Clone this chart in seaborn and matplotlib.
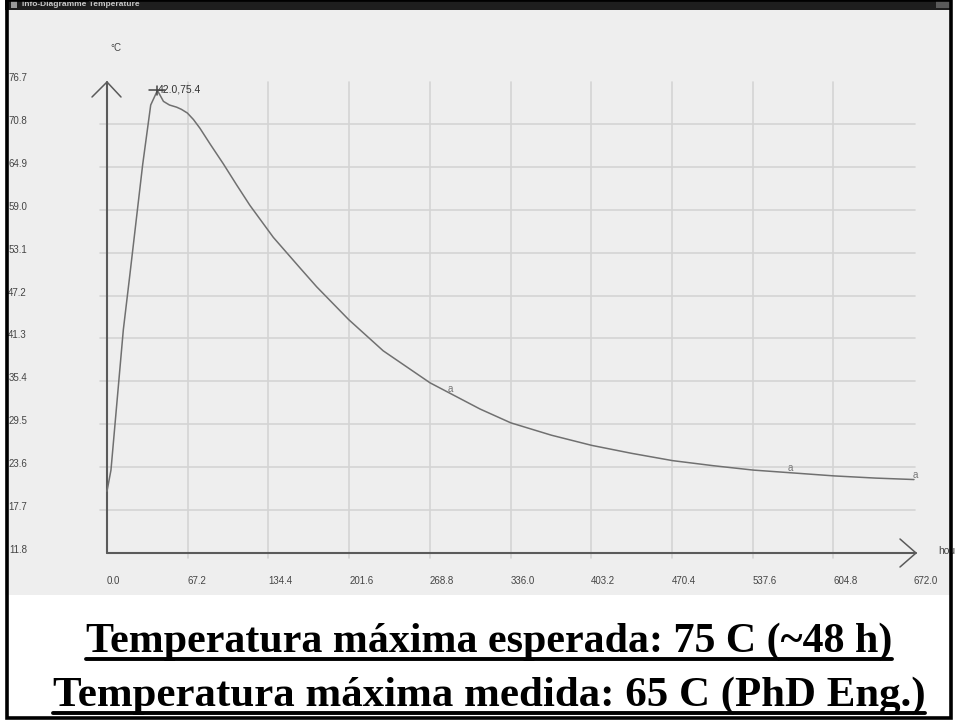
import matplotlib
matplotlib.use("Agg")
import matplotlib.pyplot as plt
from matplotlib.lines import Line2D
from matplotlib.patches import Rectangle
import seaborn as sns

# temperature curve (hours, deg C)
hours = [0, 3.3, 13.6, 19, 29.7, 36.4, 42, 47, 52, 58, 62, 66.9, 72, 77.4, 86, 96.9, 108,
         119, 138.5, 160.7, 174.6, 201.2, 230, 269, 310.6, 336.2, 370, 403.6, 437,
         471, 505, 538.2, 572, 605.6, 640, 672]
temp = [20.3, 23.2, 42.5, 50.0, 65.2, 73.4, 75.4, 73.9, 73.4, 73.1, 72.8, 72.3, 71.4, 70.2,
        68.0, 65.3, 62.4, 59.6, 55.2, 51.0, 48.4, 43.9, 39.6, 35.2, 31.6, 29.7, 28.0, 26.6,
        25.5, 24.5, 23.8, 23.2, 22.8, 22.4, 22.1, 21.9]

x_ticks = [0.0, 67.2, 134.4, 201.6, 268.8, 336.0, 403.2, 470.4, 537.6, 604.8, 672.0]
y_ticks = [11.8, 17.7, 23.6, 29.5, 35.4, 41.3, 47.2, 53.1, 59.0, 64.9, 70.8, 76.7]
peak = (42.0, 75.4)
a_marks = [284.8, 568.0, 672.0]

line1 = "Temperatura máxima esperada: 75 C (~48 h)"
line2 = "Temperatura máxima medida: 65 C (PhD Eng.)"

W, H = 955, 720
BG = "#eeeeee"
GRID = "#d4d4d4"
AXC = "#5a5a5a"

sns.set_theme(style="white")
plt.rcParams["font.family"] = ["Liberation Sans", "DejaVu Sans"]


def fx(px):
    return px / W


def fy(py):
    return 1 - py / H


fig = plt.figure(figsize=(W / 100, H / 100), dpi=100)
fig.patch.set_facecolor("white")

# gray window body (behind the axes)
fig.patches.append(Rectangle((fx(5), fy(595)), fx(952) - fx(5), fy(8) - fy(595),
                             transform=fig.transFigure, facecolor=BG, edgecolor="none", zorder=-5))

# plot axes: x 0..672 -> px 107..914, y 11.8..76.7 -> px 553..81
ax = fig.add_axes([fx(107), fy(553), fx(914) - fx(107), fy(81) - fy(553)])
ax.set_zorder(2)
ax.set_facecolor("none")
ax.set_xlim(0, 672)
ax.set_ylim(11.8, 76.7)
for s in ax.spines.values():
    s.set_visible(False)
ax.set_xticks([])
ax.set_yticks([])

xs = 672 / 807.0   # hours per pixel
ys = 64.9 / 472.0  # degrees per pixel

# grid
for v in y_ticks[1:-1]:
    ax.plot([-7 * xs, 673], [v, v], color=GRID, lw=1.2, clip_on=False, zorder=1)
for t in x_ticks[1:-1]:
    ax.plot([t, t], [11.8 - 5 * ys, 76.7 - 1 * ys], color=GRID, lw=1.2, clip_on=False, zorder=1)

# axes with open arrow heads
x_end = 809 * xs
ax.plot([0, 0], [11.8, 76.7 - 1 * ys], color=AXC, lw=1.5, clip_on=False, zorder=3)
ax.plot([0, x_end], [11.8, 11.8], color=AXC, lw=1.5, clip_on=False, zorder=3)
ax.plot([-15 * xs, 0, 14 * xs], [76.7 - 16 * ys, 76.7 - 1 * ys, 76.7 - 16 * ys],
        color=AXC, lw=1.1, clip_on=False, zorder=3)
ax.plot([x_end - 16 * xs, x_end, x_end - 16 * xs], [11.8 + 14 * ys, 11.8, 11.8 - 14 * ys],
        color=AXC, lw=1.1, clip_on=False, zorder=3)

# curve
sns.lineplot(x=hours, y=temp, ax=ax, color="#707070", lw=1.1, estimator=None,
             zorder=4, clip_on=False)

# peak marker and label
ax.plot([peak[0] - 8 * xs, peak[0] + 8 * xs], [peak[1], peak[1]], color="#444444", lw=1.1,
        clip_on=False, zorder=5)
ax.plot([peak[0], peak[0]], [peak[1] - 5 * ys, peak[1] + 4 * ys], color="#444444", lw=1.1,
        clip_on=False, zorder=5)
ax.annotate(f"{peak[0]:.1f},{peak[1]:.1f}", xy=peak, xytext=(0, 1), textcoords="offset points",
            ha="left", va="center", fontsize=7.5, color="#333333")

# little "a" labels on the curve
for t in a_marks:
    v = 0
    for i in range(len(hours) - 1):
        if hours[i] <= t <= hours[i + 1]:
            f = (t - hours[i]) / (hours[i + 1] - hours[i])
            v = temp[i] + f * (temp[i + 1] - temp[i])
    ax.annotate("a", xy=(t, v), xytext=(1, 3), textcoords="offset points",
                ha="center", va="center", fontsize=7, color="#777777")

# tick labels
for v in y_ticks:
    ax.text(-80 * xs, v + 3 * ys, f"{v:.1f}", ha="right", va="center", fontsize=7,
            color="#444444", clip_on=False)
for t in x_ticks:
    ax.text(t, 11.8 - 28 * ys, f"{t:.1f}", ha="left", va="center", fontsize=7,
            color="#444444", clip_on=False)

fig.text(fx(110), fy(48), "°C", ha="left", va="center", fontsize=7, color="#444444")
fig.text(fx(938), fy(551), "hou", ha="left", va="center", fontsize=7.5, color="#444444")

# window title bar
fig.patches.append(Rectangle((fx(5), fy(10)), fx(952) - fx(5), fy(0) - fy(10),
                             transform=fig.transFigure, facecolor="#1e1e1e", edgecolor="none", zorder=6))
fig.patches.append(Rectangle((fx(11), fy(8)), fx(6), fy(1) - fy(8),
                             transform=fig.transFigure, facecolor="#9a9a9a", edgecolor="none", zorder=7))
fig.text(fx(22), fy(5), "Info-Diagramme Temperature", ha="left", va="center", fontsize=6,
         fontweight="bold", color="#c8c8c8", zorder=8)
fig.patches.append(Rectangle((fx(936), fy(8)), fx(14), fy(0) - fy(8),
                             transform=fig.transFigure, facecolor="#5a5a5a", edgecolor="none", zorder=7))

# outer frame
fig.patches.append(Rectangle((fx(6.5), fy(718)), fx(951) - fx(6.5), fy(0) - fy(718),
                             transform=fig.transFigure, facecolor="none", edgecolor="black",
                             lw=2.6, zorder=9))

# captions, bold serif, underlined
renderer = fig.canvas.get_renderer()
captions = [(line1, 652, 805), (line2, 706, 870)]
for txt, base, target in captions:
    t = fig.text(fx(489), fy(base), txt, ha="center", va="baseline", fontsize=30,
                 family=["Liberation Serif", "DejaVu Serif"], fontweight="bold", color="black")
    w = t.get_window_extent(renderer).width
    t.set_fontsize(30 * target / w)
    ext = t.get_window_extent(renderer)
    fig.lines.append(Line2D([ext.x0 / W, ext.x1 / W], [fy(base + 7), fy(base + 7)],
                            transform=fig.transFigure, color="black", lw=2.8))

fig.savefig("out.png", dpi=100)
